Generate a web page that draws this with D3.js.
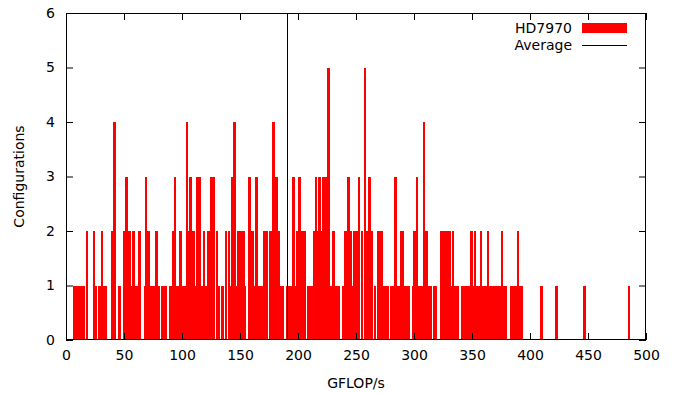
<!DOCTYPE html>
<html>
<head>
<meta charset="utf-8">
<script src="https://cdn.jsdelivr.net/npm/d3@7"></script>
<style>
  body { margin: 0; background: #fff; }
  svg { display: block; font-family: "DejaVu Sans", sans-serif; }
</style>
</head>
<body>
<div id="chart"></div>
<script>
// Histogram of HD7970 configurations, bin centres (GFLOP/s) grouped by count
const countOne = [7, 9, 11, 13, 15, 26, 29, 33, 34, 46, 56.5, 60, 61, 68, 73, 75, 76, 80, 83, 85, 86, 90.3,
    96, 97, 100.5, 102.3, 111.8, 117, 121, 132, 134.7, 142.4, 147.2, 154.5, 162.7, 166.6, 169.2,
    185.5, 186.5, 191, 192.3, 194, 198.5, 209, 211, 212.2, 228.5, 232.4, 234.4, 235.5, 238.7,
    246.9, 266.3, 273.8, 274.6, 277.1, 280.2, 282.3, 285.8, 286.8, 292, 293.6, 295.6, 299,
    304.6, 306.3, 313.2, 314.7, 317.6, 319, 325, 329.5, 332, 335.7, 337.7, 341.8, 344, 346,
    347.8, 351, 354.1, 355.8, 359.9, 361.6, 365.6, 367.6, 369.6, 371.6, 373.7, 378, 379.5,
    384, 386.7, 387.5, 391.2, 393, 409.9, 423, 447.2, 485.2];
const countTwo = [18, 24, 31, 40, 50, 54, 55, 58, 63.4, 71, 78, 92.6, 98.5, 105.5, 109.5, 110.3,
    119, 123, 130, 138, 140.7, 148.6, 150.2, 152.8, 159.8, 161.3, 171, 173.4, 176.5, 180,
    183.4, 199.8, 204, 206.2, 213.6, 216.9, 220, 230.5, 240.8, 241.9, 245.2, 248.8, 250.2,
    255.1, 259.9, 263.7, 269.5, 271.8, 288.7, 290.7, 300.4, 311, 323.6, 326.3, 328.2,
    330.8, 333.7, 349.5, 352.4, 357.8, 363.6, 375.8, 389.5];
const countThree = [52, 69, 94, 107.3, 113.2, 115.5, 125.3, 127.6, 143.7, 158, 164.4, 181.3,
    196.3, 201.5, 215.4, 218.4, 221.7, 222.8, 224.8, 243.5, 252.5, 261.6, 284, 302.5];
const countFour = [42, 104.3, 145.4, 178.7, 308.6];
const countFive = [226.3, 257.7];
const averageGflops = 190.2;

const xTicks = [0, 50, 100, 150, 200, 250, 300, 350, 400, 450, 500];
const yTicks = [0, 1, 2, 3, 4, 5, 6];

const width = 677, height = 393;
const margin = { top: 13, right: 31, bottom: 53, left: 66 };
const w = width - margin.left - margin.right;
const h = height - margin.top - margin.bottom;

const bins = [].concat(
    countOne.map(v => ({ x: v, n: 1 })),
    countTwo.map(v => ({ x: v, n: 2 })),
    countThree.map(v => ({ x: v, n: 3 })),
    countFour.map(v => ({ x: v, n: 4 })),
    countFive.map(v => ({ x: v, n: 5 }))
);

const svg = d3.select("#chart").append("svg")
    .attr("width", width)
    .attr("height", height);

const g = svg.append("g").attr("transform", `translate(${margin.left},${margin.top})`);

const x = d3.scaleLinear().domain([0, 500]).range([0, w]);
const y = d3.scaleLinear().domain([0, 6]).range([h, 0]);

// bars, snapped to pixels so neighbouring bins merge into solid blocks
const halfBar = 1.1;
g.selectAll(".bar")
    .data(bins)
    .enter()
    .append("rect")
    .attr("x", d => x(d.x - halfBar))
    .attr("width", d => x(d.x + halfBar) - x(d.x - halfBar))
    .attr("y", d => y(d.n))
    .attr("height", d => y(0) - y(d.n))
    .attr("fill", "#ff0000")
    .attr("shape-rendering", "crispEdges");

// average line
g.append("line")
    .attr("x1", Math.round(x(averageGflops)) + 0.5)
    .attr("x2", Math.round(x(averageGflops)) + 0.5)
    .attr("y1", 0)
    .attr("y2", h)
    .attr("stroke", "#000")
    .attr("stroke-width", 1);

// axes, ticks inside and mirrored like gnuplot
const styleAxis = sel => {
    sel.select(".domain").remove();
    sel.selectAll("line").attr("stroke", "#000");
    sel.selectAll("text")
        .attr("fill", "#000")
        .style("font-size", "14px")
        .style("font-family", "DejaVu Sans");
};

g.append("g")
    .attr("transform", `translate(0,${h})`)
    .call(d3.axisBottom(x).tickValues(xTicks).tickSizeInner(-7).tickSizeOuter(0).tickPadding(10))
    .call(styleAxis);

g.append("g")
    .call(d3.axisTop(x).tickValues(xTicks).tickSizeInner(-7).tickSizeOuter(0).tickFormat(""))
    .call(styleAxis);

g.append("g")
    .call(d3.axisLeft(y).tickValues(yTicks).tickSizeInner(-7).tickSizeOuter(0)
        .tickPadding(11).tickFormat(d3.format("d")))
    .call(styleAxis);

g.append("g")
    .attr("transform", `translate(${w},0)`)
    .call(d3.axisRight(y).tickValues(yTicks).tickSizeInner(-7).tickSizeOuter(0).tickFormat(""))
    .call(styleAxis);

// border
g.append("rect")
    .attr("x", 0.5)
    .attr("y", 0.5)
    .attr("width", w - 1)
    .attr("height", h - 1)
    .attr("fill", "none")
    .attr("stroke", "#000");

// axis labels
svg.append("text")
    .attr("x", margin.left + w / 2)
    .attr("y", 388)
    .attr("text-anchor", "middle")
    .style("font-size", "14px")
    .text("GFLOP/s");

svg.append("text")
    .attr("transform", `translate(24,${margin.top + h / 2}) rotate(-90)`)
    .attr("text-anchor", "middle")
    .style("font-size", "14px")
    .text("Configurations");

// legend
const legend = svg.append("g");
legend.append("text")
    .attr("x", 572)
    .attr("y", 33)
    .attr("text-anchor", "end")
    .style("font-size", "14px")
    .text("HD7970");
legend.append("rect")
    .attr("x", 582)
    .attr("y", 23)
    .attr("width", 45)
    .attr("height", 10)
    .attr("fill", "#ff0000");
legend.append("text")
    .attr("x", 572)
    .attr("y", 50)
    .attr("text-anchor", "end")
    .style("font-size", "14px")
    .text("Average");
legend.append("line")
    .attr("x1", 582)
    .attr("x2", 627)
    .attr("y1", 45.5)
    .attr("y2", 45.5)
    .attr("stroke", "#000");
</script>
</body>
</html>
